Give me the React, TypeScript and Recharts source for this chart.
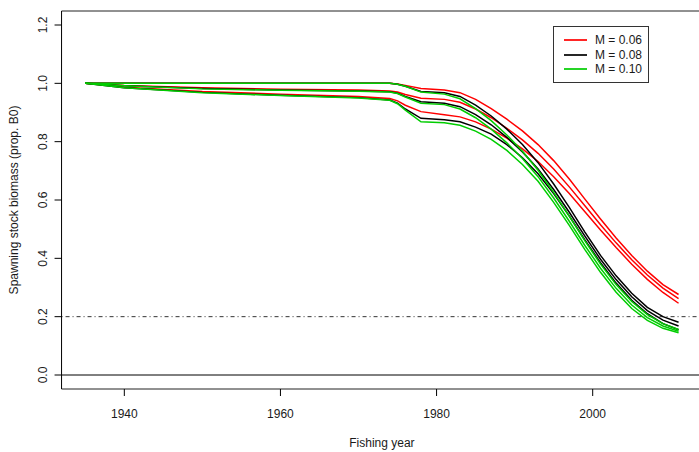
import React from 'react';
import { LineChart, Line, XAxis, YAxis, ReferenceLine } from 'recharts';

// Fishing years at which the trajectories are sampled
const years = [1935, 1940, 1950, 1960, 1970, 1974, 1975, 1976, 1978, 1981, 1983, 1985, 1987, 1989, 1991, 1993, 1995, 1997, 1999, 2001, 2003, 2005, 2007, 2009, 2011];

// Spawning stock biomass as proportion of B0, three runs per natural mortality value
const m006Run1 = [1.0, 1.0, 1.0, 1.0, 1.0, 1.0, 0.998, 0.993, 0.982, 0.977, 0.968, 0.945, 0.913, 0.877, 0.837, 0.79, 0.735, 0.672, 0.603, 0.535, 0.47, 0.41, 0.356, 0.31, 0.276];
const m006Run2 = [1.0, 0.993, 0.985, 0.98, 0.977, 0.974, 0.97, 0.962, 0.949, 0.945, 0.935, 0.912, 0.882, 0.846, 0.806, 0.76, 0.706, 0.645, 0.58, 0.515, 0.453, 0.395, 0.343, 0.298, 0.262];
const m006Run3 = [1.0, 0.987, 0.972, 0.963, 0.955, 0.948, 0.94, 0.925, 0.903, 0.892, 0.885, 0.868, 0.843, 0.812, 0.775, 0.732, 0.68, 0.622, 0.56, 0.497, 0.437, 0.38, 0.328, 0.283, 0.246];

const m008Run1 = [1.0, 1.0, 1.0, 1.0, 1.0, 1.0, 0.997, 0.99, 0.972, 0.968, 0.955, 0.925, 0.888, 0.843, 0.79, 0.728, 0.655, 0.575, 0.49, 0.41, 0.34, 0.28, 0.232, 0.2, 0.181];
const m008Run2 = [1.0, 0.992, 0.982, 0.977, 0.974, 0.971, 0.966, 0.955, 0.937, 0.932, 0.92, 0.893, 0.858, 0.815, 0.765, 0.706, 0.636, 0.558, 0.476, 0.397, 0.327, 0.268, 0.221, 0.188, 0.168];
const m008Run3 = [1.0, 0.985, 0.969, 0.959, 0.951, 0.943, 0.932, 0.912, 0.88, 0.875, 0.868, 0.85, 0.826, 0.79, 0.745, 0.69, 0.622, 0.545, 0.463, 0.385, 0.315, 0.256, 0.21, 0.176, 0.155];

const m010Run1 = [1.0, 1.0, 1.0, 1.0, 1.0, 1.0, 0.997, 0.99, 0.97, 0.963, 0.947, 0.913, 0.872, 0.823, 0.767, 0.702, 0.626, 0.545, 0.46, 0.38, 0.31, 0.252, 0.207, 0.176, 0.156];
const m010Run2 = [1.0, 0.992, 0.981, 0.976, 0.973, 0.97, 0.965, 0.953, 0.932, 0.927, 0.912, 0.882, 0.843, 0.796, 0.742, 0.68, 0.607, 0.527, 0.444, 0.366, 0.297, 0.24, 0.197, 0.168, 0.15];
const m010Run3 = [1.0, 0.985, 0.968, 0.958, 0.95, 0.942, 0.93, 0.908, 0.868, 0.865, 0.856, 0.836, 0.808, 0.77, 0.722, 0.664, 0.592, 0.513, 0.43, 0.352, 0.284, 0.228, 0.187, 0.16, 0.145];

const xTicks = [1940, 1960, 1980, 2000];
const yTicks = [0, 0.2, 0.4, 0.6, 0.8, 1.0, 1.2];
const limitRef = 0.2;

const legendItems = [
  { label: 'M = 0.06', color: '#ff0000' },
  { label: 'M = 0.08', color: '#000000' },
  { label: 'M = 0.10', color: '#00cd00' },
];

const seriesList = [
  { key: 'm006Run1', values: m006Run1, color: '#ff0000' },
  { key: 'm006Run2', values: m006Run2, color: '#ff0000' },
  { key: 'm006Run3', values: m006Run3, color: '#ff0000' },
  { key: 'm008Run1', values: m008Run1, color: '#000000' },
  { key: 'm008Run2', values: m008Run2, color: '#000000' },
  { key: 'm008Run3', values: m008Run3, color: '#000000' },
  { key: 'm010Run1', values: m010Run1, color: '#00cd00' },
  { key: 'm010Run2', values: m010Run2, color: '#00cd00' },
  { key: 'm010Run3', values: m010Run3, color: '#00cd00' },
];

const data = years.map((year, i) => {
  const row: Record<string, number> = { year };
  seriesList.forEach((s) => {
    row[s.key] = s.values[i];
  });
  return row;
});

const FONT = '"Liberation Sans", Arial, Helvetica, sans-serif';
const TEXT = '#1a1a1a';

const XTick = (props: any) => {
  const { x, y, payload } = props;
  return (
    <text x={x} y={y + 20} textAnchor="middle" fontSize={12} fontFamily={FONT} fill={TEXT}>
      {payload.value}
    </text>
  );
};

const YTick = (props: any) => {
  const { y, payload } = props;
  const bx = 47;
  return (
    <text
      x={bx}
      y={y}
      transform={`rotate(-90, ${bx}, ${y})`}
      textAnchor="middle"
      fontSize={12}
      fontFamily={FONT}
      fill={TEXT}
    >
      {payload.value.toFixed(1)}
    </text>
  );
};

export default function App() {
  return (
    <div style={{ position: 'absolute', left: 0, top: 0, width: 699, height: 452, overflow: 'hidden', background: '#fff' }}>
      <LineChart width={710} height={452} data={data} margin={{ top: 11, right: 7.7, bottom: 0, left: 0 }}>
        <XAxis
          dataKey="year"
          type="number"
          domain={[1931.96, 2014.04]}
          ticks={xTicks}
          allowDataOverflow
          height={63}
          tickSize={7}
          tickLine={{ stroke: '#000' }}
          axisLine={{ stroke: '#222' }}
          tick={<XTick />}
          label={(p: any) => {
            const vb = p.viewBox || {};
            return (
              <text x={vb.x + vb.width / 2} y={447} textAnchor="middle" fontSize={12} fontFamily={FONT} fill={TEXT}>
                Fishing year
              </text>
            );
          }}
        />
        <YAxis
          type="number"
          domain={[-0.048, 1.248]}
          ticks={yTicks}
          allowDataOverflow
          width={61.55}
          tickSize={7}
          tickLine={{ stroke: '#000' }}
          axisLine={{ stroke: '#000' }}
          tick={<YTick />}
          label={(p: any) => {
            const vb = p.viewBox || {};
            const cy = vb.y + vb.height / 2;
            return (
              <text
                x={18}
                y={cy}
                transform={`rotate(-90, 18, ${cy})`}
                textAnchor="middle"
                fontSize={12}
                fontFamily={FONT}
                fill={TEXT}
              >
                Spawning stock biomass (prop. B0)
              </text>
            );
          }}
        />
        <ReferenceLine y={1.248} stroke="#222" strokeWidth={1} ifOverflow="extendDomain" />
        <ReferenceLine y={0} stroke="#000" strokeWidth={1} />
        <ReferenceLine y={limitRef} stroke="#333" strokeWidth={1} strokeDasharray="1 3 4 3" />
        {seriesList.map((s) => (
          <Line
            key={s.key}
            dataKey={s.key}
            type="linear"
            stroke={s.color}
            strokeWidth={1.5}
            dot={false}
            activeDot={false}
            isAnimationActive={false}
          />
        ))}
      </LineChart>
      <div
        style={{
          position: 'absolute',
          left: 553,
          top: 26,
          width: 94,
          height: 55,
          border: '1px solid #333',
          fontFamily: FONT,
          fontSize: 12,
          color: TEXT,
        }}
      >
        {legendItems.map((item, i) => (
          <div key={item.label} style={{ position: 'absolute', left: 10, top: 6 + i * 14.5, height: 14, display: 'flex', alignItems: 'center' }}>
            <div style={{ width: 23, height: 2, background: item.color, opacity: 0.85 }} />
            <span style={{ marginLeft: 8, whiteSpace: 'nowrap', lineHeight: '14px' }}>{item.label}</span>
          </div>
        ))}
      </div>
    </div>
  );
}
